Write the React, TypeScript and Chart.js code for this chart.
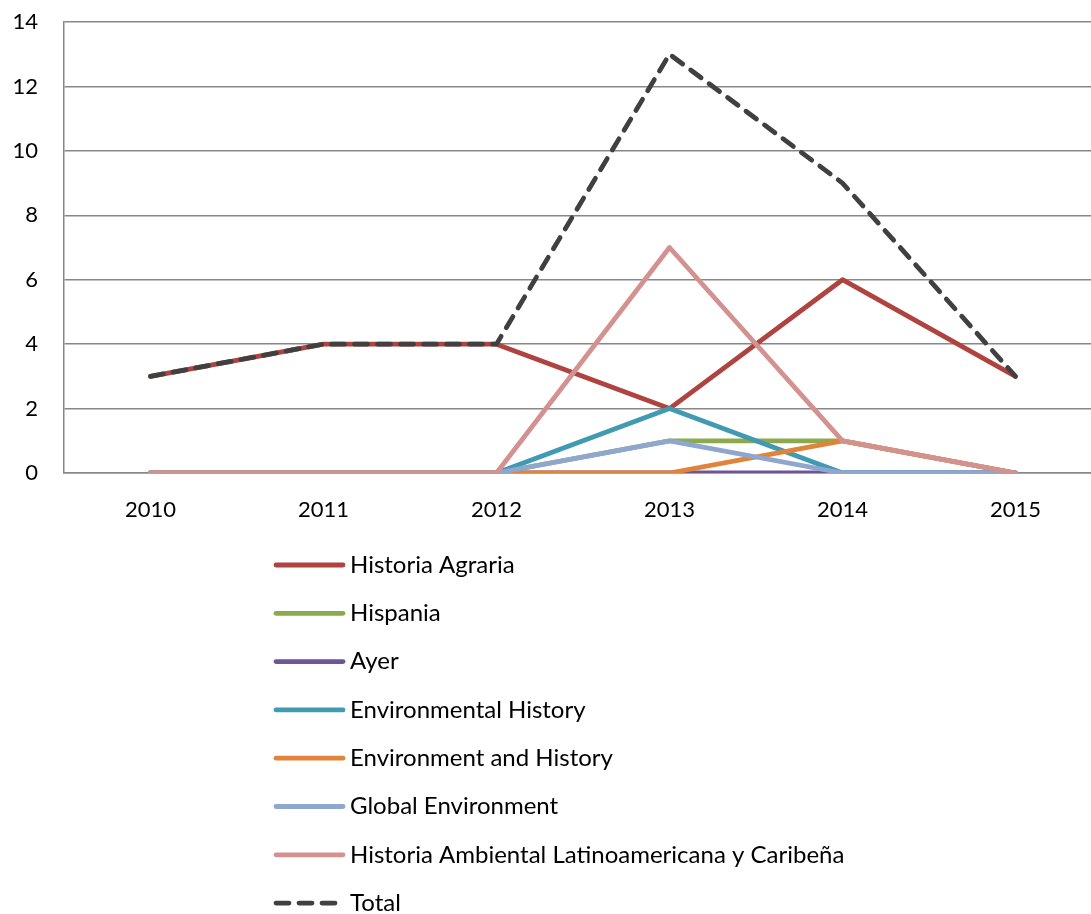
import React, { useEffect, useRef } from "react";
import { Chart, registerables } from "chart.js";

Chart.register(...registerables);

const years = ["2010", "2011", "2012", "2013", "2014", "2015"];
const seriesNames = [
  "Historia Agraria",
  "Hispania",
  "Ayer",
  "Environmental History",
  "Environment and History",
  "Global Environment",
  "Historia Ambiental Latinoamericana y Caribeña",
  "Total",
];
const historiaAgraria = [3, 4, 4, 2, 6, 3];
const hispania = [0, 0, 0, 1, 1, 0];
const ayer = [0, 0, 0, 0, 0, 0];
const environmentalHistory = [0, 0, 0, 2, 0, 0];
const environmentAndHistory = [0, 0, 0, 0, 1, 0];
const globalEnvironment = [0, 0, 0, 1, 0, 0];
const historiaAmbiental = [0, 0, 0, 7, 1, 0];
const total = [3, 4, 4, 13, 9, 3];
const yTicks = [0, 2, 4, 6, 8, 10, 12, 14];

const seriesValues = [
  historiaAgraria,
  hispania,
  ayer,
  environmentalHistory,
  environmentAndHistory,
  globalEnvironment,
  historiaAmbiental,
  total,
];
const colors = [
  "#AE4340",
  "#8CA94E",
  "#6E5596",
  "#3F9AB2",
  "#E0843A",
  "#8FA7CE",
  "#D39290",
  "#404040",
];

const FONT = "Lato, 'Liberation Sans', sans-serif";

const legendPlugin = {
  id: "verticalLegend",
  afterDraw(chart: any) {
    const ctx = chart.ctx;
    const area = chart.chartArea;
    const ds = chart.data.datasets;
    ctx.save();
    ctx.font = `24px ${FONT}`;
    ctx.textBaseline = "middle";
    ctx.textAlign = "left";
    for (let i = 0; i < ds.length; i++) {
      const y = area.bottom + 92 + i * 48.3;
      ctx.beginPath();
      ctx.strokeStyle = ds[i].borderColor;
      ctx.lineWidth = ds[i].borderWidth;
      ctx.lineCap = "round";
      ctx.setLineDash(ds[i].borderDash || []);
      ctx.moveTo(276, y);
      ctx.lineTo(343, y);
      ctx.stroke();
      ctx.setLineDash([]);
      ctx.fillStyle = "#000";
      ctx.fillText(ds[i].label, 350, y);
    }
    ctx.restore();
  },
};

export default function App() {
  const ref = useRef<HTMLCanvasElement>(null);
  useEffect(() => {
    if (!ref.current) return;
    const n = seriesNames.length;
    const chart = new Chart(ref.current, {
      type: "line",
      data: {
        labels: years,
        datasets: seriesNames.map((name, i) => ({
          label: name,
          data: seriesValues[i],
          borderColor: colors[i],
          backgroundColor: colors[i],
          borderWidth: 4.8,
          borderDash: i === n - 1 ? [13, 10] : [],
          borderCapStyle: "round",
          borderJoinStyle: "round",
          pointRadius: 0,
          tension: 0,
          fill: false,
          order: n - i,
        })) as any,
      },
      options: {
        animation: false,
        responsive: false,
        devicePixelRatio: 1,
        layout: { padding: { top: 22, right: 8, left: 0, bottom: 0 } },
        plugins: {
          legend: { display: false },
          tooltip: { enabled: false },
        },
        scales: {
          x: {
            offset: true,
            grid: { display: false, drawTicks: false },
            border: { display: true, color: "#888", width: 1.5 },
            ticks: {
              padding: 24,
              color: "#000",
              font: { family: FONT, size: 22 },
            },
            afterFit: (s: any) => {
              s.height = 441;
              s.paddingLeft = 0;
              s.paddingRight = 0;
            },
          },
          y: {
            min: 0,
            max: 14,
            afterBuildTicks: (s: any) => {
              s.ticks = yTicks.map((v) => ({ value: v }));
            },
            grid: { color: "#888", lineWidth: 1.5, drawTicks: false },
            border: { display: true, color: "#888", width: 1.5 },
            ticks: {
              padding: 26,
              color: "#000",
              font: { family: FONT, size: 22 },
            },
            afterFit: (s: any) => {
              s.width = 64;
              s.paddingTop = 0;
              s.paddingBottom = 0;
            },
          },
        },
      },
      plugins: [legendPlugin],
    });
    return () => chart.destroy();
  }, []);
  return (
    <div
      style={{
        position: "fixed",
        left: 0,
        top: 0,
        width: 1091,
        height: 914,
        overflow: "hidden",
        background: "#fff",
      }}
    >
      <canvas ref={ref} width={1110} height={914} style={{ display: "block" }} />
    </div>
  );
}
